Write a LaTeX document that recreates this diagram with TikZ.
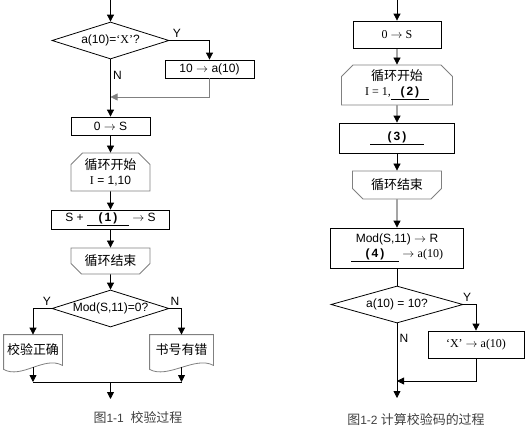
\documentclass[tikz,border=0pt]{standalone}
\usepackage{fontspec}
\setmainfont{Liberation Sans}
\newfontfamily\cjk[Scale=1.08]{Noto Sans CJK SC}
\newfontfamily\tms{Liberation Serif}
\usetikzlibrary{arrows.meta,shapes.geometric,shapes.misc}

\begin{document}
\begin{tikzpicture}[x=1pt,y=-1pt,line width=0.8pt,font=\fontsize{12}{15}\selectfont,
    box/.style={draw,rectangle,inner sep=1pt,align=center},
    loopbeg/.style={chamfered rectangle,chamfered rectangle corners={north west,north east},
      chamfered rectangle xsep=8pt,draw=black!50,inner sep=1pt,align=center},
    loopend/.style={chamfered rectangle,chamfered rectangle corners={south west,south east},
      chamfered rectangle xsep=8pt,draw=black!50,inner sep=1pt,align=center},
    decision/.style={diamond,draw,inner sep=0pt,minimum width=117pt,minimum height=37pt},
    docbox/.style={rectangle,inner sep=0pt,minimum height=30pt},
    docline/.style={draw=black!50},
    arr/.style={-{Triangle[length=7pt,width=7pt]}},
    lbl/.style={inner sep=0pt}]
  \useasboundingbox (0,0) rectangle (528,431);

  % figure 1-1
  \coordinate (inL) at (110.5,0);
  \node[decision] (chkX) at (110.5,40.5) {\makebox[0pt]{a(10)={\tms ‘X’}?}};
  \node[box,minimum width=89pt,minimum height=18pt] (setTen) at (209.5,69) {10 $\rightarrow$ a(10)};
  \coordinate (backL) at (110.5,97);
  \node[box,minimum width=79pt,minimum height=18pt] (initS) at (110.5,126) {0 $\rightarrow$ S};
  \node[loopbeg,minimum width=79pt,minimum height=38pt] (forI) at (110.5,172) {{\cjk 循环开始}\\{\tms I} = 1,10};
  \node[box,minimum width=118pt,minimum height=19pt] (sumS) at (110.5,219.5)
    {S + \underline{\makebox[42pt]{\textbf{(\,1\,)}}}\ $\rightarrow$ S};
  \node[loopend,minimum width=79pt,minimum height=26pt] (endI) at (110.5,261) {\cjk 循环结束};
  \node[decision] (chkMod) at (110.5,308.5) {\makebox[0pt]{Mod(S,11)=0?}};
  \node[docbox,minimum width=58pt] (okDoc) at (33,350) {\cjk 校验正确};
  \node[docbox,minimum width=63pt] (errDoc) at (181.5,350) {\cjk 书号有错};
  \coordinate (mrgL) at (110.5,382);
  \coordinate (outL) at (110.5,399);

  \foreach \d in {okDoc,errDoc}{
    \draw[docline] (\d.north west) -- (\d.north east) -- (\d.south east)
      .. controls ([xshift=-18pt,yshift=10pt]\d.south east) and ([xshift=18pt,yshift=-14pt]\d.south west)
      .. ([yshift=-4pt]\d.south west) -- cycle;
    \draw[arr] ([yshift=-2pt]\d.south) -- (\d.south |- mrgL);
  }

  \draw[arr] (inL) -- (chkX.north);
  \draw[arr] (chkX.east) -| (setTen.north);
  \draw[arr,black!50] (setTen.south) |- (backL);
  \draw[arr] (chkX.south) -- (initS.north);
  \draw[arr] (initS) -- (forI);
  \draw[arr] (forI) -- (sumS);
  \draw[arr] (sumS) -- (endI);
  \draw[arr] (endI) -- (chkMod.north);
  \draw[arr] (chkMod.west) -| (okDoc.north);
  \draw[arr] (chkMod.east) -| (errDoc.north);
  \draw (okDoc.south |- mrgL) -- (errDoc.south |- mrgL);
  \draw[arr] (mrgL) -- (outL);

  \node[lbl] (yA) at (177,33) {Y};
  \node[lbl] (nA) at (117.5,75) {N};
  \node[lbl] (yB) at (47,301) {Y};
  \node[lbl] (nB) at (175,301) {N};
  \node[text=black!75] (capA) at (138,418) {{\cjk 图}1-1\ \ {\cjk 校验过程}};

  % figure 1-2
  \coordinate (inR) at (397,0);
  \node[box,minimum width=88pt,minimum height=27pt] (zeroS) at (397,34.5) {\tms 0 $\rightarrow$ S};
  \node[loopbeg,minimum width=111pt,minimum height=40pt] (forJ) at (397,85)
    {{\cjk 循环开始}\\{\tms I = 1,}\underline{\makebox[38pt]{\textbf{(\,2\,)}}}};
  \node[box,minimum width=115pt,minimum height=30pt] (stepIn) at (397,138)
    {\underline{\makebox[54pt]{\textbf{(\,3\,)}}}};
  \node[loopend,minimum width=89pt,minimum height=28pt] (endJ) at (397,185) {\cjk 循环结束};
  \node[box,minimum width=133pt,minimum height=40pt] (modR) at (397,248)
    {Mod(S,11) $\rightarrow$ R\\\underline{\makebox[48pt]{\textbf{(\,4\,)}}}\ $\rightarrow$ {\tms a(10)}};
  \node[decision,minimum width=132pt] (chkTen) at (397,304.5) {\makebox[0pt]{a(10) = 10?}};
  \node[box,minimum width=96pt,minimum height=27pt] (setX) at (476,344.5) {\tms ‘X’ $\rightarrow$ a(10)};
  \coordinate (backR) at (397,381);
  \coordinate (outR) at (397,398);

  \draw[arr] (inR) -- (zeroS.north);
  \draw[arr] (zeroS) -- (forJ);
  \draw[arr] (forJ) -- (stepIn);
  \draw[arr] (stepIn) -- (endJ);
  \draw[arr] (endJ) -- (modR);
  \draw (modR.south) -- (chkTen.north);
  \draw[arr] (chkTen.east) -| (setX.north);
  \draw[arr] (setX.south) |- (backR);
  \draw[arr] (chkTen.south) -- (outR);

  \node[lbl] (yC) at (467,297) {Y};
  \node[lbl] (nC) at (404,338) {N};
  \node[text=black!75] (capB) at (416,420) {{\cjk 图}1-2\ {\cjk 计算校验码的过程}};
\end{tikzpicture}
\end{document}
